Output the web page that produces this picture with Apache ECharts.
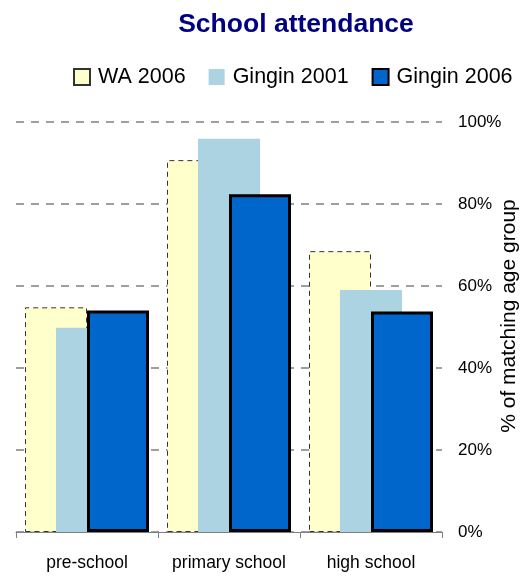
<!DOCTYPE html>
<html>
<head>
<meta charset="utf-8">
<script src="https://cdn.jsdelivr.net/npm/echarts@6/dist/echarts.min.js"></script>
<style>
html,body{margin:0;padding:0;background:#fff;}
#chart{width:526px;height:576px;}
</style>
</head>
<body>
<div id="chart"></div>
<script>
const categories = ['pre-school', 'primary school', 'high school'];
const wa2006 = [54.8, 90.7, 68.5];
const gingin2001 = [49.8, 95.9, 59.0];
const gingin2006 = [54.0, 82.4, 53.8];
const yTicks = [0, 20, 40, 60, 80, 100];

const chart = echarts.init(document.getElementById('chart'), null, {renderer: 'canvas'});
const font = 'Liberation Sans, Arial, sans-serif';
chart.setOption({
  animation: false,
  backgroundColor: '#ffffff',
  textStyle: {fontFamily: font},
  title: {
    text: 'School attendance',
    left: 291, top: 6, textAlign: 'center',
    textStyle: {color: '#000080', fontSize: 26.5, fontWeight: 'bold', fontFamily: font}
  },
  legend: {
    top: 66, left: 73, width: 480, padding: 0,
    icon: 'rect',
    itemWidth: 16, itemHeight: 16, itemGap: 23,
    textStyle: {fontSize: 21.5, color: '#000', fontFamily: font, padding: [0,0,0,3]},
    data: ['WA 2006', 'Gingin 2001', 'Gingin 2006']
  },
  grid: {left: 16, right: 84, top: 122, bottom: 44, containLabel: false, outerBoundsMode: 'none'},
  xAxis: {
    type: 'category',
    data: categories,
    axisLine: {lineStyle: {color: '#808080', width: 1}},
    axisTick: {show: true, length: 6, alignWithLabel: false, lineStyle: {color: '#808080'}},
    axisLabel: {interval: 0, fontSize: 17.5, color: '#000', margin: 22, fontFamily: font}
  },
  yAxis: {
    type: 'value', position: 'right',
    min: yTicks[0], max: yTicks[yTicks.length - 1], interval: 20,
    axisLine: {show: false}, axisTick: {show: false},
    axisLabel: {fontSize: 17, color: '#000', margin: 16, formatter: '{value}%', fontFamily: font},
    splitLine: {show: true, lineStyle: {color: '#808080', type: [8, 7], width: 1.5}},
    name: '% of matching age group',
    nameLocation: 'middle', nameRotate: 90, nameGap: 57, nameMoveOverlap: false,
    nameTextStyle: {fontSize: 21, color: '#000', fontFamily: font, padding: [0, 0, 0, 22]}
  },
  series: [
    {
      name: 'WA 2006', type: 'bar', data: wa2006,
      barWidth: 62, barGap: '-50%',
      itemStyle: {color: '#FFFFCC', borderColor: '#333333', borderWidth: 1, borderType: [5, 4]}
    },
    {
      name: 'Gingin 2001', type: 'bar', data: gingin2001,
      barWidth: 62, barGap: '-50%',
      itemStyle: {color: '#ABD3E2', borderWidth: 0}
    },
    {
      name: 'Gingin 2006', type: 'bar', data: gingin2006,
      barWidth: 62, barGap: '-50%',
      itemStyle: {color: '#0066CC', borderColor: '#000000', borderWidth: 3}
    }
  ]
});
</script>
</body>
</html>
